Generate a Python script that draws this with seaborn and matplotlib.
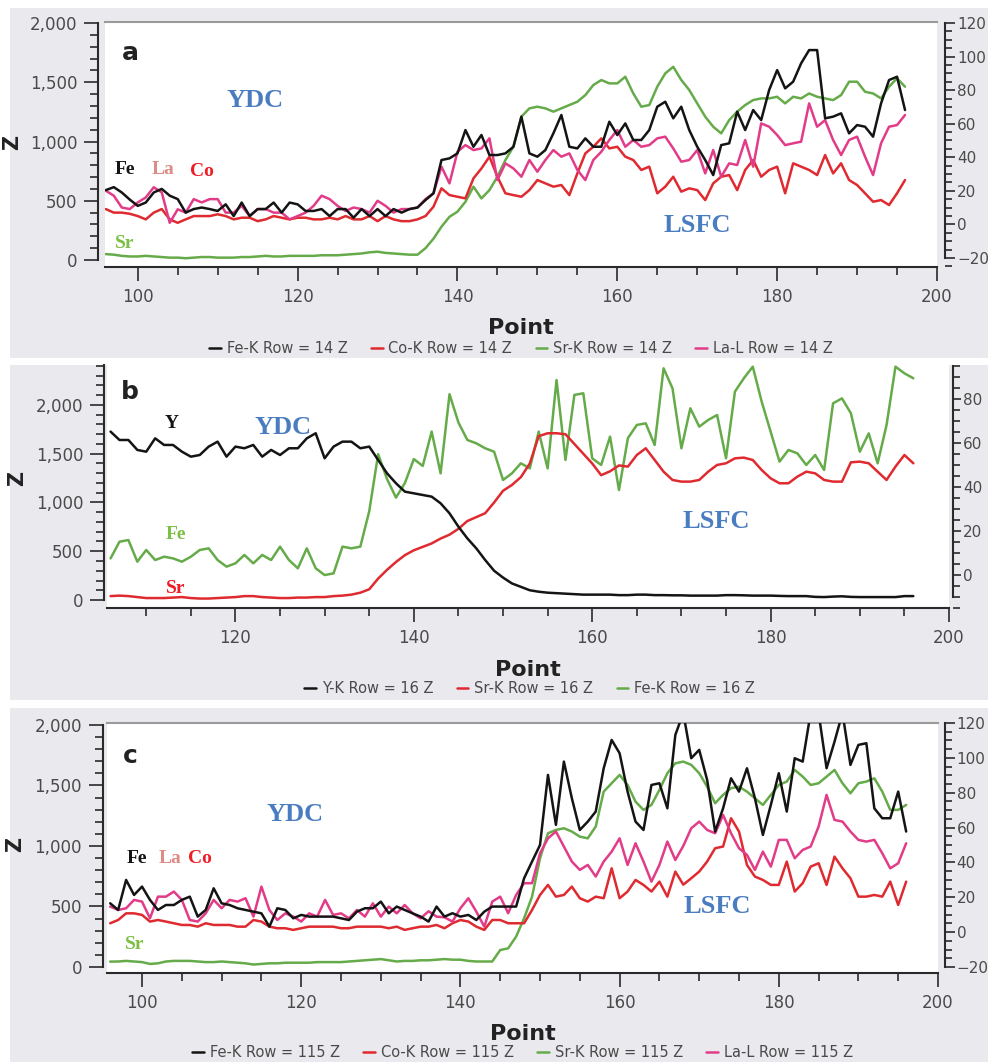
import numpy as np
import pandas as pd
import seaborn as sns
import matplotlib.pyplot as plt
from matplotlib.patches import Rectangle
from matplotlib.ticker import MultipleLocator, FuncFormatter

sns.set_theme(style="white")
plt.rcParams['font.family'] = ['DejaVu Sans']

# ---- data ----
# panel a : Row = 14
pts_a = np.arange(96, 197)
fe_a = [590, 615, 570, 510, 457, 485, 570, 600, 543, 514, 400, 430, 443, 430, 414, 470, 371, 485, 371, 430,
        430, 485, 400, 485, 470, 414, 414, 430, 371, 430, 430, 357, 430, 371, 430, 371, 430, 400, 430, 443,
        506, 563, 844, 858, 900, 1097, 956, 1055, 886, 886, 900, 956, 1210, 900, 872, 928, 1069, 1224, 956, 942,
        1027, 956, 956, 1167, 1055, 1153, 1013, 1013, 1097, 1294, 1336, 1196, 1294, 1097, 956, 844, 717, 970, 985, 1252,
        1097, 1266, 1181, 1435, 1603, 1449, 1505, 1660, 1772, 1772, 1196, 1210, 1238, 1069, 1139, 1125, 1041, 1322, 1519, 1547,
        1266]
co_a = [430, 400, 400, 390, 371, 343, 400, 430, 343, 314, 343, 371, 371, 371, 386, 371, 343, 357, 357, 328,
        343, 371, 357, 343, 357, 357, 343, 343, 357, 343, 371, 343, 343, 371, 328, 371, 343, 328, 328, 343,
        371, 450, 605, 548, 534, 520, 689, 773, 872, 703, 563, 548, 534, 590, 675, 647, 619, 633, 548, 731,
        900, 956, 1027, 942, 956, 872, 844, 760, 788, 563, 619, 703, 577, 605, 590, 506, 647, 703, 717, 590,
        760, 844, 703, 760, 788, 563, 816, 788, 760, 717, 886, 731, 816, 675, 633, 563, 492, 506, 464, 563,
        675]
sr_a = [50, 45, 35, 30, 30, 35, 30, 25, 20, 20, 15, 20, 25, 25, 20, 20, 20, 25, 25, 30,
        35, 30, 30, 35, 35, 35, 35, 40, 40, 40, 45, 50, 55, 65, 70, 60, 55, 50, 45, 45,
        100, 180, 281, 365, 408, 492, 619, 520, 590, 703, 844, 956, 1210, 1280, 1294, 1280, 1252, 1280, 1308, 1336,
        1392, 1477, 1519, 1491, 1491, 1547, 1406, 1294, 1308, 1463, 1575, 1631, 1520, 1435, 1322, 1210, 1125, 1069, 1181, 1252,
        1308, 1350, 1364, 1364, 1378, 1322, 1378, 1364, 1406, 1378, 1364, 1350, 1392, 1505, 1505, 1420, 1406, 1364, 1463, 1533,
        1463]
la_a = [585, 543, 443, 430, 486, 528, 614, 571, 314, 428, 400, 514, 486, 514, 514, 400, 400, 457, 371, 430,
        430, 400, 400, 343, 371, 400, 457, 543, 514, 457, 414, 443, 430, 400, 500, 457, 400, 430, 430, 443,
        514, 563, 788, 647, 914, 970, 928, 942, 1027, 675, 816, 773, 703, 844, 745, 844, 928, 872, 900, 760,
        675, 844, 914, 1013, 1097, 956, 1013, 956, 970, 1027, 1041, 942, 830, 844, 928, 731, 928, 703, 816, 802,
        1013, 788, 1153, 1125, 1055, 970, 985, 999, 1322, 1125, 1181, 1013, 886, 1013, 1041, 872, 717, 985, 1125, 1139,
        1224]

# panel b : Row = 16
pts_b = np.arange(106, 197)
y_b = [1727, 1641, 1641, 1539, 1521, 1658, 1590, 1590, 1521, 1470, 1487, 1573, 1624, 1470, 1573, 1556, 1590, 1470, 1539, 1487,
       1556, 1556, 1658, 1710, 1453, 1573, 1624, 1624, 1556, 1573, 1436, 1299, 1197, 1111, 1094, 1077, 1060, 992, 889, 752,
       632, 530, 410, 300, 230, 170, 135, 100, 85, 75, 70, 65, 60, 55, 55, 55, 55, 50, 50, 55,
       55, 50, 50, 48, 48, 45, 45, 45, 45, 50, 50, 48, 45, 45, 45, 42, 40, 40, 40, 32,
       30, 35, 38, 32, 30, 30, 30, 30, 30, 40, 40]
sr_b = [40, 45, 40, 30, 20, 20, 20, 25, 30, 20, 15, 15, 20, 25, 30, 40, 40, 30, 25, 20,
        20, 25, 25, 30, 30, 40, 45, 55, 75, 110, 220, 310, 390, 460, 510, 545, 580, 630, 670, 730,
        810, 850, 890, 1000, 1120, 1180, 1260, 1400, 1680, 1710, 1710, 1700, 1600, 1500, 1400, 1280, 1320, 1380, 1368, 1487,
        1556, 1436, 1316, 1231, 1214, 1214, 1231, 1316, 1385, 1402, 1453, 1460, 1436, 1333, 1248, 1197, 1197, 1265, 1316, 1299,
        1231, 1214, 1214, 1412, 1419, 1402, 1316, 1231, 1368, 1487, 1402]
fe_b = [427, 598, 615, 393, 513, 410, 444, 427, 393, 444, 513, 530, 410, 342, 376, 462, 376, 462, 410, 547,
        410, 325, 530, 325, 256, 273, 547, 530, 547, 910, 1495, 1240, 1050, 1200, 1445, 1375, 1727, 1299, 2110, 1820,
        1641, 1607, 1556, 1521, 1231, 1299, 1402, 1350, 1727, 1350, 2256, 1436, 2103, 2120, 1453, 1385, 1675, 1128, 1660, 1795,
        1812, 1590, 2376, 2171, 1556, 1966, 1778, 1846, 1897, 1453, 2137, 2274, 2393, 2034, 1727, 1419, 1539, 1504, 1385, 1487,
        1333, 2017, 2068, 1915, 1521, 1709, 1402, 1795, 2393, 2325, 2274]

# panel c : Row = 115
pts_c = np.arange(96, 197)
fe_c = [526, 471, 719, 595, 664, 554, 471, 512, 512, 554, 581, 416, 471, 650, 526, 512, 485, 471, 457, 443,
        333, 485, 471, 402, 430, 416, 416, 416, 416, 402, 388, 457, 485, 485, 540, 443, 499, 471, 443, 416,
        375, 499, 416, 444, 416, 430, 388, 457, 499, 499, 499, 499, 733, 871, 1008, 1587, 1174, 1697, 1394, 1132,
        1201, 1284, 1642, 1876, 1766, 1449, 1201, 1132, 1504, 1518, 1311, 1917, 2100, 1725, 1794, 1545, 1119, 1311, 1559, 1449,
        1642, 1394, 1091, 1339, 1601, 1284, 1725, 1697, 2100, 2100, 1642, 1862, 2100, 1670, 1835, 1849, 1311, 1229, 1229, 1449,
        1119]
co_c = [361, 388, 443, 443, 430, 375, 388, 375, 361, 347, 347, 333, 361, 347, 347, 347, 333, 333, 388, 375,
        333, 320, 320, 306, 320, 333, 333, 333, 333, 320, 320, 333, 333, 333, 333, 320, 333, 306, 320, 333,
        333, 347, 320, 361, 388, 375, 333, 306, 388, 388, 361, 361, 361, 471, 595, 678, 581, 595, 664, 568,
        540, 581, 568, 815, 568, 623, 719, 678, 623, 705, 581, 788, 680, 733, 788, 871, 981, 995, 1229, 1119,
        843, 747, 719, 678, 678, 871, 623, 692, 829, 857, 678, 912, 815, 733, 581, 581, 595, 581, 705, 512,
        705]
sr_c = [44, 45, 50, 45, 40, 25, 30, 45, 50, 50, 50, 45, 40, 40, 45, 40, 35, 30, 20, 25,
        30, 30, 35, 35, 35, 35, 40, 40, 40, 40, 45, 50, 55, 60, 65, 55, 45, 50, 50, 55,
        55, 60, 65, 60, 60, 50, 45, 45, 45, 140, 154, 251, 402, 581, 898, 1105, 1132, 1146, 1119, 1077,
        1063, 1160, 1449, 1518, 1587, 1504, 1366, 1298, 1339, 1463, 1601, 1683, 1697, 1670, 1601, 1490, 1353, 1422, 1477, 1490,
        1449, 1394, 1339, 1422, 1504, 1532, 1628, 1573, 1504, 1518, 1573, 1628, 1518, 1435, 1518, 1532, 1559, 1449, 1298, 1298,
        1339]
la_c = [499, 471, 485, 554, 540, 402, 581, 581, 623, 554, 388, 375, 443, 554, 485, 554, 540, 568, 416, 664,
        471, 388, 443, 416, 375, 443, 416, 554, 430, 443, 402, 471, 416, 526, 416, 499, 443, 512, 443, 402,
        460, 416, 410, 375, 485, 568, 457, 333, 540, 581, 444, 595, 692, 692, 939, 1063, 1119, 995, 871, 802,
        843, 747, 871, 953, 1063, 843, 1022, 871, 705, 843, 1036, 884, 1000, 1146, 1201, 1132, 1105, 1256, 1105, 981,
        926, 802, 953, 829, 1050, 1050, 898, 967, 995, 1160, 1422, 1215, 1201, 1119, 1050, 1036, 1050, 939, 815, 857,
        1022]

# ---- styling ----
BG = '#eaeaee'
C_BLACK = '#141414'
C_RED = '#df2a30'
C_GREEN = '#66ab4a'
C_PINK = '#e23c88'
T_BLUE = '#4a7cc0'
T_RED = '#ee1c24'
T_GREEN = '#7cbf45'
T_SALMON = '#df8a86'
TICK_C = '#4a4a4a'

W, H = 988, 1062
fig = plt.figure(figsize=(W / 100, H / 100), dpi=100)
fig.patch.set_facecolor('white')

# grey screenshot panels behind each plot
for y0, y1 in [(8, 358), (365, 700), (708, 1062)]:
    fig.add_artist(Rectangle((10 / W, 1 - y1 / H), (W - 10) / W, (y1 - y0) / H,
                             transform=fig.transFigure, facecolor=BG,
                             edgecolor='none', zorder=-10))


def px_axes(left, right, top, bottom):
    return fig.add_axes([left / W, 1 - bottom / H, (right - left) / W, (bottom - top) / H])


def setup(ax, ylim, lbounds, rlim, rbounds, rmajor, rout, lout, xlim, show_top):
    ax.set_facecolor('white')
    ax.set_xlim(*xlim)
    ax.set_ylim(*ylim)
    ax.xaxis.set_major_locator(MultipleLocator(20))
    ax.xaxis.set_minor_locator(MultipleLocator(5))
    ax.yaxis.set_major_locator(MultipleLocator(500))
    ax.yaxis.set_minor_locator(MultipleLocator(100))
    ax.yaxis.set_major_formatter(FuncFormatter(lambda v, p: f'{int(v):,}'))
    ax.tick_params(which='both', bottom=True, left=True, direction='out',
                   color='#2a2a2a', width=1.2, labelsize=12, labelcolor=TICK_C)
    ax.tick_params(which='major', length=10, pad=5)
    ax.tick_params(which='minor', length=6)
    ax.spines['right'].set_visible(False)
    ax.spines['top'].set_visible(show_top)
    ax.spines['top'].set_color('#9a9a9a')
    ax.spines['top'].set_linewidth(1.5)
    ax.spines['left'].set_position(('outward', lout))
    ax.spines['left'].set_bounds(*lbounds)
    for s in ['left', 'bottom']:
        ax.spines[s].set_color('#2a2a2a')
        ax.spines[s].set_linewidth(1.5)

    ax2 = ax.twinx()
    ax2.set_ylim(*rlim)
    ax2.yaxis.set_major_locator(MultipleLocator(rmajor))
    ax2.yaxis.set_minor_locator(MultipleLocator(5))
    for s in ['top', 'bottom', 'left']:
        ax2.spines[s].set_visible(False)
    ax2.spines['right'].set_position(('outward', rout))
    ax2.spines['right'].set_bounds(*rbounds)
    ax2.spines['right'].set_color('#2a2a2a')
    ax2.spines['right'].set_linewidth(1.5)
    ax2.tick_params(which='both', right=True, direction='out', color='#2a2a2a',
                    width=1.2, labelsize=11, labelcolor=TICK_C)
    ax2.tick_params(which='major', length=7, pad=1.5)
    ax2.tick_params(which='minor', length=5)
    ax2.set_yticks([t for t in ax2.get_yticks() if rbounds[0] <= t <= rbounds[1]])
    ax2.set_ylim(*rlim)
    ax2.grid(False)
    ax.grid(False)

    ax.set_xlabel('Point', fontsize=16, fontweight='bold', color='#222222')
    ax.set_ylabel('Z', fontsize=15, fontweight='bold', color='#222222')
    return ax2


def draw(ax, pts, series, zorders):
    lines = {}
    for (name, vals, color), z in zip(series, zorders):
        sns.lineplot(x=pts, y=vals, color=color, lw=1.8, ax=ax, zorder=z)
        lines[name] = ax.lines[-1]
    return lines


serif = ['Liberation Serif', 'DejaVu Serif']


def note(ax, x, y, s, color, size):
    ax.text(x, y, s, color=color, fontsize=size, fontweight='bold',
            family=serif, ha='center', va='center', zorder=10)


# ---------------- panel a ----------------
ax_a = px_axes(105, 937, 22, 267)
ax2_a = setup(ax_a, (-59, 2009), (0, 2000), (-25.4, 120.6), (-20, 120), 20, 6, 5, (95.9, 200), True)
la = draw(ax_a, pts_a, [('sr', sr_a, C_GREEN), ('co', co_a, C_RED), ('la', la_a, C_PINK), ('fe', fe_a, C_BLACK)],
          [2, 3, 4, 5])
ax_a.legend([la['fe'], la['co'], la['sr'], la['la']],
            ['Fe-K Row = 14 Z', 'Co-K Row = 14 Z', 'Sr-K Row = 14 Z', 'La-L Row = 14 Z'],
            loc='center', bbox_to_anchor=(0.5, -0.332), ncol=4, frameon=False, fontsize=10.5,
            handlelength=0.8, handletextpad=0.4, columnspacing=1.6, labelcolor=TICK_C)
ax_a.xaxis.set_label_coords(0.5, -0.208)
ax_a.yaxis.set_label_coords(-0.1, 0.51)
ax_a.text(0.03, 0.873, 'a', transform=ax_a.transAxes, fontsize=18, fontweight='bold',
          color='#222222', ha='center', va='center')
note(ax_a, 114.7, 1350, 'YDC', T_BLUE, 19)
note(ax_a, 170.0, 295, 'LSFC', T_BLUE, 19)
note(ax_a, 98.4, 760, 'Fe', C_BLACK, 14)
note(ax_a, 103.1, 760, 'La', T_SALMON, 14)
note(ax_a, 108.0, 745, 'Co', T_RED, 14)
note(ax_a, 98.4, 143, 'Sr', T_GREEN, 14)

# ---------------- panel b ----------------
ax_b = px_axes(107, 949, 365, 608)
ax2_b = setup(ax_b, (-82, 2410), (0, 2410), (-15, 95.5), (-10, 95), 20, 3, 2, (105.6, 200), False)
ax2_b.tick_params(which='major', length=6, pad=1)
lb = draw(ax_b, pts_b, [('sr', sr_b, C_RED), ('fe', fe_b, C_GREEN), ('y', y_b, C_BLACK)], [3, 2, 5])
ax_b.legend([lb['y'], lb['sr'], lb['fe']],
            ['Y-K Row = 16 Z', 'Sr-K Row = 16 Z', 'Fe-K Row = 16 Z'],
            loc='center', bbox_to_anchor=(0.502, -0.33), ncol=3, frameon=False, fontsize=10.5,
            handlelength=0.8, handletextpad=0.4, columnspacing=1.6, labelcolor=TICK_C)
ax_b.xaxis.set_label_coords(0.5, -0.214)
ax_b.yaxis.set_label_coords(-0.095, 0.535)
ax_b.text(0.027, 0.889, 'b', transform=ax_b.transAxes, fontsize=18, fontweight='bold',
          color='#222222', ha='center', va='center')
note(ax_b, 112.9, 1805, 'Y', C_BLACK, 14)
note(ax_b, 125.3, 1774, 'YDC', T_BLUE, 19)
note(ax_b, 113.3, 667, 'Fe', T_GREEN, 14)
note(ax_b, 113.3, 123, 'Sr', T_RED, 14)
note(ax_b, 173.9, 810, 'LSFC', T_BLUE, 19)

# ---------------- panel c ----------------
ax_c = px_axes(107, 938, 723, 973)
ax2_c = setup(ax_c, (-50, 2016), (0, 2000), (-23.4, 120), (-20, 120), 20, 5, 3, (95.6, 200), True)
lc = draw(ax_c, pts_c, [('sr', sr_c, C_GREEN), ('co', co_c, C_RED), ('la', la_c, C_PINK), ('fe', fe_c, C_BLACK)],
          [2, 3, 4, 5])
ax_c.legend([lc['fe'], lc['co'], lc['sr'], lc['la']],
            ['Fe-K Row = 115 Z', 'Co-K Row = 115 Z', 'Sr-K Row = 115 Z', 'La-L Row = 115 Z'],
            loc='center', bbox_to_anchor=(0.5, -0.318), ncol=4, frameon=False, fontsize=10.5,
            handlelength=0.8, handletextpad=0.4, columnspacing=1.6, labelcolor=TICK_C)
ax_c.xaxis.set_label_coords(0.5, -0.205)
ax_c.yaxis.set_label_coords(-0.099, 0.514)
ax_c.text(0.028, 0.867, 'c', transform=ax_c.transAxes, fontsize=18, fontweight='bold',
          color='#222222', ha='center', va='center')
note(ax_c, 119.2, 1256, 'YDC', T_BLUE, 19)
note(ax_c, 172.3, 496, 'LSFC', T_BLUE, 19)
note(ax_c, 99.4, 900, 'Fe', C_BLACK, 14)
note(ax_c, 103.5, 900, 'La', T_SALMON, 14)
note(ax_c, 107.3, 900, 'Co', T_RED, 14)
note(ax_c, 99.1, 182, 'Sr', T_GREEN, 14)

fig.savefig('out.png', dpi=100)
